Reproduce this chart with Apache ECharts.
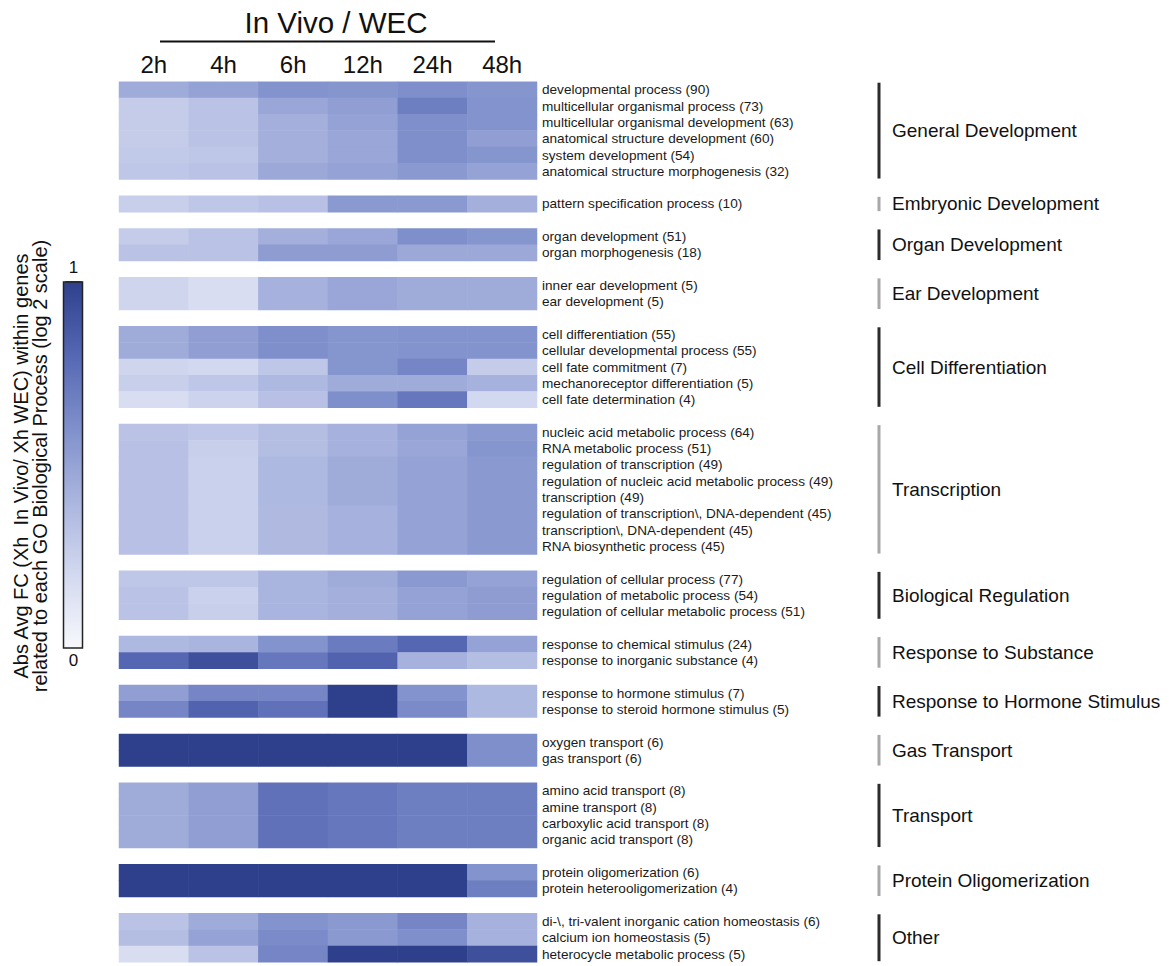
<!DOCTYPE html>
<html>
<head>
<meta charset="utf-8">
<script src="https://cdn.jsdelivr.net/npm/echarts@6/dist/echarts.min.js"></script>
<style>
html,body{margin:0;padding:0;background:#fff;}
#chart{width:1169px;height:966px;}
</style>
</head>
<body>
<div id="chart"></div>
<script>
// time points (columns)
var timePoints = ['2h', '4h', '6h', '12h', '24h', '48h'];

// GO terms and values (abs avg FC, 0..1) for each group
var generalTerms = ['developmental process (90)', 'multicellular organismal process (73)', 'multicellular organismal development (63)',
  'anatomical structure development (60)', 'system development (54)', 'anatomical structure morphogenesis (32)'];
var generalValues = [
  [0.45, 0.50, 0.58, 0.57, 0.60, 0.57],
  [0.27, 0.32, 0.48, 0.52, 0.68, 0.58],
  [0.27, 0.32, 0.43, 0.50, 0.60, 0.58],
  [0.27, 0.32, 0.43, 0.48, 0.60, 0.52],
  [0.28, 0.30, 0.43, 0.48, 0.60, 0.57],
  [0.30, 0.32, 0.47, 0.50, 0.55, 0.50]
];

var embryonicTerms = ['pattern specification process (10)'];
var embryonicValues = [
  [0.25, 0.30, 0.33, 0.55, 0.55, 0.43]
];

var organTerms = ['organ development (51)', 'organ morphogenesis (18)'];
var organValues = [
  [0.27, 0.32, 0.43, 0.48, 0.60, 0.57],
  [0.32, 0.32, 0.53, 0.53, 0.47, 0.47]
];

var earTerms = ['inner ear development (5)', 'ear development (5)'];
var earValues = [
  [0.22, 0.17, 0.42, 0.48, 0.45, 0.45],
  [0.22, 0.17, 0.42, 0.48, 0.45, 0.45]
];

var cellDiffTerms = ['cell differentiation (55)', 'cellular developmental process (55)', 'cell fate commitment (7)',
  'mechanoreceptor differentiation (5)', 'cell fate determination (4)'];
var cellDiffValues = [
  [0.45, 0.52, 0.60, 0.57, 0.58, 0.58],
  [0.45, 0.52, 0.60, 0.57, 0.58, 0.58],
  [0.22, 0.20, 0.30, 0.57, 0.65, 0.27],
  [0.25, 0.30, 0.38, 0.45, 0.45, 0.42],
  [0.17, 0.23, 0.33, 0.60, 0.72, 0.20]
];

var transcriptionTerms = ['nucleic acid metabolic process (64)', 'RNA metabolic process (51)', 'regulation of transcription (49)',
  'regulation of nucleic acid metabolic process (49)', 'transcription (49)', 'regulation of transcription\\, DNA-dependent (45)',
  'transcription\\, DNA-dependent (45)', 'RNA biosynthetic process (45)'];
var transcriptionValues = [
  [0.32, 0.30, 0.35, 0.42, 0.50, 0.55],
  [0.33, 0.25, 0.35, 0.42, 0.48, 0.57],
  [0.33, 0.24, 0.38, 0.45, 0.50, 0.55],
  [0.33, 0.24, 0.38, 0.45, 0.50, 0.55],
  [0.33, 0.24, 0.38, 0.45, 0.50, 0.55],
  [0.33, 0.24, 0.37, 0.42, 0.50, 0.55],
  [0.33, 0.24, 0.37, 0.42, 0.50, 0.55],
  [0.33, 0.24, 0.37, 0.42, 0.50, 0.55]
];

var bioRegTerms = ['regulation of cellular process (77)', 'regulation of metabolic process (54)', 'regulation of cellular metabolic process (51)'];
var bioRegValues = [
  [0.30, 0.30, 0.40, 0.45, 0.55, 0.50],
  [0.32, 0.24, 0.40, 0.43, 0.50, 0.53],
  [0.32, 0.25, 0.40, 0.43, 0.50, 0.53]
];

var substanceTerms = ['response to chemical stimulus (24)', 'response to inorganic substance (4)'];
var substanceValues = [
  [0.38, 0.40, 0.58, 0.70, 0.80, 0.50],
  [0.80, 0.92, 0.72, 0.82, 0.42, 0.35]
];

var hormoneTerms = ['response to hormone stimulus (7)', 'response to steroid hormone stimulus (5)'];
var hormoneValues = [
  [0.52, 0.65, 0.65, 1.00, 0.58, 0.38],
  [0.65, 0.82, 0.75, 1.00, 0.62, 0.38]
];

var gasTerms = ['oxygen transport (6)', 'gas transport (6)'];
var gasValues = [
  [1.00, 1.00, 1.00, 1.00, 1.00, 0.60],
  [1.00, 1.00, 1.00, 1.00, 1.00, 0.60]
];

var transportTerms = ['amino acid transport (8)', 'amine transport (8)', 'carboxylic acid transport (8)', 'organic acid transport (8)'];
var transportValues = [
  [0.45, 0.52, 0.75, 0.72, 0.68, 0.68],
  [0.45, 0.52, 0.75, 0.72, 0.68, 0.68],
  [0.45, 0.52, 0.75, 0.72, 0.68, 0.68],
  [0.45, 0.52, 0.75, 0.72, 0.68, 0.68]
];

var oligoTerms = ['protein oligomerization (6)', 'protein heterooligomerization (4)'];
var oligoValues = [
  [1.00, 1.00, 1.00, 1.00, 1.00, 0.58],
  [1.00, 1.00, 1.00, 1.00, 1.00, 0.68]
];

var otherTerms = ['di-\\, tri-valent inorganic cation homeostasis (6)', 'calcium ion homeostasis (5)', 'heterocycle metabolic process (5)'];
var otherValues = [
  [0.32, 0.45, 0.58, 0.55, 0.65, 0.42],
  [0.35, 0.50, 0.62, 0.55, 0.60, 0.42],
  [0.17, 0.32, 0.65, 1.00, 1.00, 0.92]
];

var groupNames = ['General Development', 'Embryonic Development', 'Organ Development', 'Ear Development',
  'Cell Differentiation', 'Transcription', 'Biological Regulation', 'Response to Substance',
  'Response to Hormone Stimulus', 'Gas Transport', 'Transport', 'Protein Oligomerization', 'Other'];
var groupTerms = [generalTerms, embryonicTerms, organTerms, earTerms, cellDiffTerms, transcriptionTerms,
  bioRegTerms, substanceTerms, hormoneTerms, gasTerms, transportTerms, oligoTerms, otherTerms];
var groupValues = [generalValues, embryonicValues, organValues, earValues, cellDiffValues, transcriptionValues,
  bioRegValues, substanceValues, hormoneValues, gasValues, transportValues, oligoValues, otherValues];

// 组之间空一行
var rowLabels = [];
var cells = [];
var groupRanges = [];
for (var g = 0; g < groupNames.length; g++) {
  if (g > 0) rowLabels.push('');
  var start = rowLabels.length;
  for (var r = 0; r < groupTerms[g].length; r++) {
    var row = rowLabels.length;
    rowLabels.push(groupTerms[g][r]);
    for (var c = 0; c < timePoints.length; c++) {
      cells.push([c, row, groupValues[g][r][c]]);
    }
  }
  groupRanges.push([0, start, rowLabels.length - 1, g]);
}

var FONT = '"Liberation Sans", Arial, sans-serif';
var bracketX = 879;

var myChart = echarts.init(document.getElementById('chart'), null, {renderer: 'svg'});

var option = {
  animation: false,
  backgroundColor: '#fff',
  textStyle: {fontFamily: FONT},
  grid: {left: 119, top: 81.7, width: 418, height: 880.5},
  xAxis: {
    type: 'category',
    position: 'top',
    data: timePoints,
    axisLine: {show: false},
    axisTick: {show: false},
    splitLine: {show: false},
    axisLabel: {color: '#111', fontSize: 24, margin: 5, fontFamily: FONT}
  },
  yAxis: {
    type: 'category',
    position: 'right',
    inverse: true,
    data: rowLabels,
    axisLine: {show: false},
    axisTick: {show: false},
    splitLine: {show: false},
    axisLabel: {color: '#1a1a1a', fontSize: 13.6, margin: 5, interval: 0, fontFamily: FONT}
  },
  visualMap: {
    type: 'continuous',
    seriesIndex: 0,
    min: 0,
    max: 1,
    orient: 'vertical',
    left: 64,
    top: 259,
    itemWidth: 19,
    itemHeight: 366,
    padding: 0,
    textGap: 5,
    text: ['1', '0'],
    calculable: false,
    textStyle: {color: '#111', fontSize: 17, fontFamily: FONT},
    inRange: {color: ['#f7f8fc', '#d2d8ef', '#aab5df', '#7f8fcb', '#5567b3', '#2e408c']}
  },
  graphic: [
    {type: 'text', x: 336, y: 22, style: {text: 'In Vivo / WEC', font: '29.5px ' + FONT, fill: '#111', textAlign: 'center', textVerticalAlign: 'middle'}},
    {type: 'line', shape: {x1: 160, y1: 41.5, x2: 495, y2: 41.5}, style: {stroke: '#111', lineWidth: 2}},
    {type: 'rect', z: 100, shape: {x: 63.5, y: 282, width: 19, height: 366}, style: {fill: 'none', stroke: '#222', lineWidth: 1.5}},
    {type: 'text', x: 30, y: 466, rotation: Math.PI / 2,
      style: {text: 'Abs Avg FC (Xh  In Vivo/ Xh WEC) within genes\nrelated to each GO Biological Process (log 2 scale)',
        font: '20px ' + FONT, fill: '#111', textAlign: 'center', textVerticalAlign: 'middle', lineHeight: 19}}
  ],
  series: [
    {
      type: 'heatmap',
      data: cells,
      emphasis: {disabled: true},
      itemStyle: {borderWidth: 0}
    },
    {
      type: 'custom',
      silent: true,
      clip: false,
      encode: {x: 0, y: 1},
      data: groupRanges,
      renderItem: function (params, api) {
        var h = api.size([0, 1])[1];
        var top = api.coord([0, api.value(1)])[1] - h / 2;
        var bottom = api.coord([0, api.value(2)])[1] + h / 2;
        var g = api.value(3);
        return {
          type: 'group',
          children: [
            {type: 'line', shape: {x1: bracketX, y1: top + 1, x2: bracketX, y2: bottom - 1},
              style: {stroke: g % 2 === 0 ? '#2b2b2b' : '#a8a8a8', lineWidth: 3}},
            {type: 'text', style: {x: bracketX + 13, y: (top + bottom) / 2, text: groupNames[g],
              font: '19px ' + FONT, fill: '#111', textAlign: 'left', textVerticalAlign: 'middle'}}
          ]
        };
      }
    }
  ]
};
myChart.setOption(option);
</script>
</body>
</html>
